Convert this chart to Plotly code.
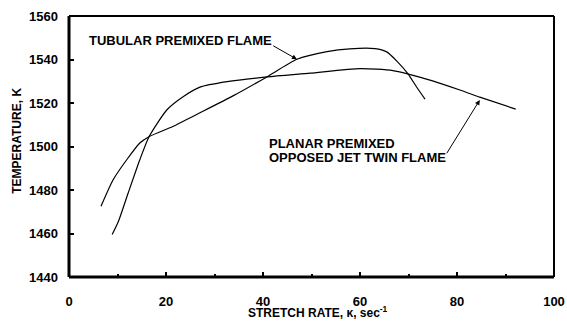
import plotly.graph_objects as go

# Tubular premixed flame (stretch rate, temperature)
tub_x = [6.6, 9.1, 11.9, 14.6, 16.5, 21.4, 27.0, 34.0, 40.8, 47.0, 53.2, 57.9, 63.1, 65.5, 67.5, 69.9, 71.6, 73.4]
tub_y = [1472.5, 1484.7, 1493.9, 1501.6, 1504.5, 1509.2, 1515.5, 1523.5, 1532.0, 1540.1, 1543.6, 1544.9, 1545.0, 1543.5, 1539.5, 1533.4, 1527.6, 1521.8]

# Planar premixed opposed jet twin flame
pla_x = [8.9, 10.2, 12.2, 14.6, 16.5, 20.2, 23.6, 27.0, 32.6, 40.8, 49.7, 60.0, 66.8, 73.7, 80.6, 84.7, 92.1]
pla_y = [1459.5, 1465.6, 1478.6, 1493.9, 1504.5, 1516.9, 1523.0, 1527.3, 1529.8, 1532.0, 1533.7, 1535.8, 1534.9, 1531.0, 1526.0, 1522.7, 1517.2]

x_ticks = [0, 20, 40, 60, 80, 100]
y_ticks = [1440, 1460, 1480, 1500, 1520, 1540, 1560]

FONT = "Liberation Sans, Arial, sans-serif"

fig = go.Figure()
fig.add_trace(go.Scatter(x=tub_x, y=tub_y, mode="lines", line=dict(color="black", width=1.2, shape="spline", smoothing=0.6), showlegend=False))
fig.add_trace(go.Scatter(x=pla_x, y=pla_y, mode="lines", line=dict(color="black", width=1.2, shape="spline", smoothing=0.6), showlegend=False))

fig.update_layout(
    width=567, height=322,
    margin=dict(l=69, r=12.7, t=16, b=44.5, autoexpand=False),
    plot_bgcolor="white", paper_bgcolor="white",
    font=dict(family=FONT, color="black", size=13),
    xaxis=dict(range=[0, 100], tickvals=x_ticks, ticktext=[str(v) for v in x_ticks],
               ticks="inside", ticklen=5, tickwidth=1.5, tickcolor="black",
               minor=dict(dtick=10, ticks="inside", ticklen=3.5, tickwidth=1.5, tickcolor="black"),
               showgrid=False, zeroline=False, showline=False, automargin=False,
               tickfont=dict(family=FONT, size=13, weight="bold"), ticklabelstandoff=15),
    yaxis=dict(range=[1440, 1560], tickvals=y_ticks, ticktext=[str(v) for v in y_ticks],
               ticks="inside", ticklen=4.5, tickwidth=1.5, tickcolor="black",
               showgrid=False, zeroline=False, showline=False, automargin=False,
               tickfont=dict(family=FONT, size=13, weight="bold"), ticklabelstandoff=10),
)

# frame
fig.add_shape(type="line", xref="paper", yref="paper", x0=0, x1=1, y0=1, y1=1, line=dict(color="black", width=2))
fig.add_shape(type="line", xref="paper", yref="paper", x0=1, x1=1, y0=0, y1=1, line=dict(color="black", width=2))
fig.add_shape(type="line", xref="paper", yref="paper", x0=0, x1=0, y0=0, y1=1, line=dict(color="black", width=3))
fig.add_shape(type="line", xref="paper", yref="paper", x0=0, x1=1, y0=0, y1=0, line=dict(color="black", width=3))

# axis titles
fig.add_annotation(text="<b>TEMPERATURE, K</b>", xref="paper", yref="paper", x=-0.1078, y=0.521,
                   textangle=-90, showarrow=False, font=dict(family=FONT, size=12), xanchor="center", yanchor="middle")
fig.add_annotation(text="<b>STRETCH RATE, κ, sec<sup>-1</sup></b>", xref="paper", yref="paper", x=0.513, y=-0.1357,
                   showarrow=False, font=dict(family=FONT, size=12), xanchor="center", yanchor="middle")

# labels
fig.add_annotation(text="<b>TUBULAR PREMIXED FLAME</b>", x=3.7, y=1548.8, xanchor="left", yanchor="middle",
                   showarrow=False, font=dict(family=FONT, size=13))
fig.add_annotation(text="<b>PLANAR PREMIXED</b>", x=40.8, y=1501.6, xanchor="left", yanchor="middle",
                   showarrow=False, font=dict(family=FONT, size=13))
fig.add_annotation(text="<b>OPPOSED JET TWIN FLAME</b>", x=40.8, y=1494.8, xanchor="left", yanchor="middle",
                   showarrow=False, font=dict(family=FONT, size=13))

# arrows
fig.add_annotation(text="", x=47.0, y=1540.1, ax=41.8, ay=1546.7, axref="x", ayref="y",
                   showarrow=True, arrowhead=2, arrowsize=1, arrowwidth=1, arrowcolor="black", standoff=0)
fig.add_annotation(text="", x=84.7, y=1521.4, ax=77.7, ay=1496.2, axref="x", ayref="y",
                   showarrow=True, arrowhead=2, arrowsize=1, arrowwidth=1, arrowcolor="black", standoff=0)

fig.write_html("out.html")
